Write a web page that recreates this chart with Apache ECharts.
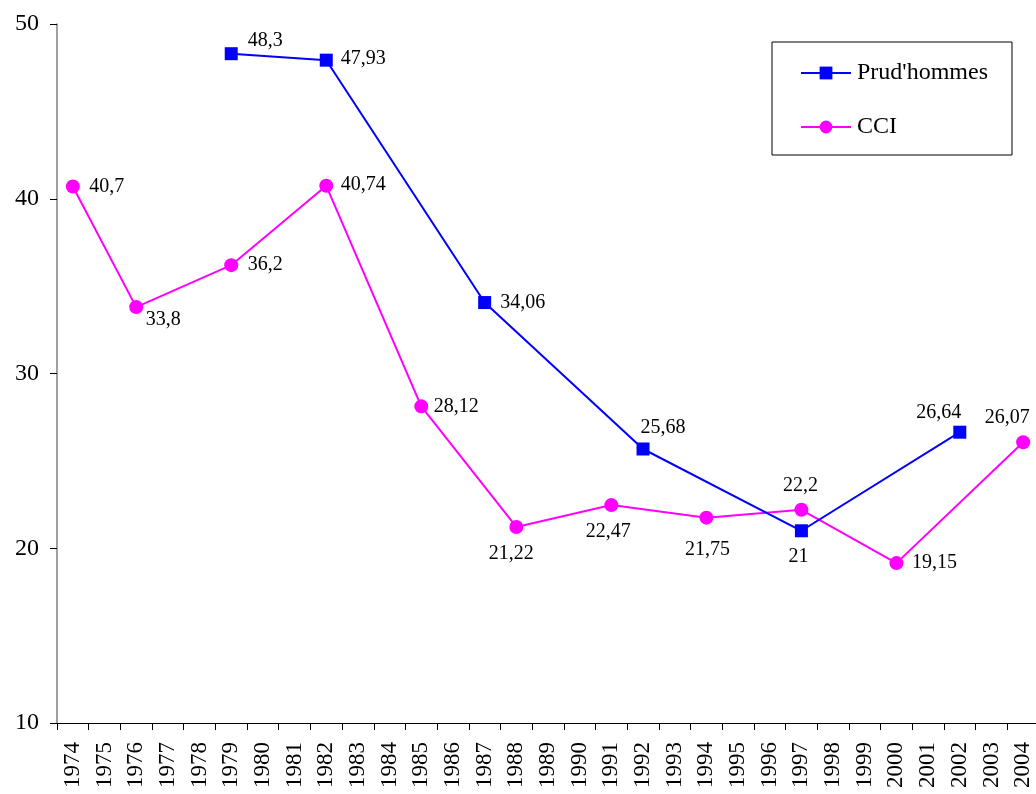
<!DOCTYPE html>
<html>
<head>
<meta charset="utf-8">
<script src="https://cdn.jsdelivr.net/npm/echarts@6/dist/echarts.min.js"></script>
<style>html,body{margin:0;padding:0;background:#fff;overflow:hidden;}#c{width:1040px;height:794px;}</style>
</head>
<body>
<div id="c"></div>
<script>
const years = ['1974','1975','1976','1977','1978','1979','1980','1981','1982','1983','1984','1985','1986','1987','1988','1989','1990','1991','1992','1993','1994','1995','1996','1997','1998','1999','2000','2001','2002','2003','2004'];
const prudYears = ['1979','1982','1987','1992','1997','2002'];
const prudValues = [48.3, 47.93, 34.06, 25.68, 21, 26.64];
const cciYears = ['1974','1976','1979','1982','1985','1988','1991','1994','1997','2000','2004'];
const cciValues = [40.7, 33.8, 36.2, 40.74, 28.12, 21.22, 22.47, 21.75, 22.2, 19.15, 26.07];
const yTicks = [10, 20, 30, 40, 50];

// label offsets (dx, dy) from marker centre, per year
const prudLabelOff = {'1979':[34,-13],'1982':[37,-1],'1987':[38,0],'1992':[20,-21],'1997':[-3,26],'2002':[-21,-19]};
const cciLabelOff = {'1974':[34,0],'1976':[27,13],'1979':[34,0],'1982':[37,-1],'1985':[35,0],'1988':[-5,27],'1991':[-3,27],'1994':[1,32],'1997':[-1,-24],'2000':[38,0],'2004':[-16,-24]};

function fmt(v){ return String(v).replace('.', ','); }
function build(ys, vs, offs){
  return years.map(y => {
    const i = ys.indexOf(y);
    if (i < 0) return null;
    const o = offs[y];
    return {
      value: vs[i],
      label: {show: true, position: 'inside', offset: o, align: 'center', verticalAlign: 'middle',
              formatter: fmt(vs[i])}
    };
  });
}

const font = '"Liberation Serif", "Times New Roman", serif';
const chart = echarts.init(document.getElementById('c'), null, {renderer: 'canvas'});
chart.setOption({
  animation: false,
  backgroundColor: '#fff',
  textStyle: {fontFamily: font},
  grid: {left: 57, right: 1, top: 24, bottom: 71, containLabel: false},
  legend: {
    orient: 'vertical', left: 772, top: 42,
    padding: [19, 24, 16, 28],
    itemGap: 30,
    itemWidth: 50, itemHeight: 16,
    borderColor: '#000', borderWidth: 1,
    textStyle: {fontFamily: font, fontSize: 24, color: '#000', padding: [0,0,0,1]},
    data: ["Prud'hommes", 'CCI']
  },
  xAxis: {
    type: 'category', data: years, boundaryGap: true,
    axisLine: {lineStyle: {color: '#000', width: 1}},
    axisTick: {show: true, interval: 0, length: 7, lineStyle: {color: '#000'}},
    axisLabel: {interval: 0, rotate: 90, fontSize: 23, color: '#000', fontFamily: font, margin: 19},
    splitLine: {show: false}
  },
  yAxis: {
    type: 'value', min: yTicks[0], max: yTicks[yTicks.length-1], interval: 10,
    axisLine: {show: true, lineStyle: {color: '#808080', width: 1.5}},
    axisTick: {show: true, length: 7, lineStyle: {color: '#000'}},
    axisLabel: {fontSize: 24, color: '#000', fontFamily: font, margin: 18},
    splitLine: {show: false}
  },
  series: [
    {
      name: "Prud'hommes", type: 'line', connectNulls: true,
      data: build(prudYears, prudValues, prudLabelOff),
      symbol: 'rect', symbolSize: 13,
      itemStyle: {color: '#0000ff'},
      lineStyle: {color: '#0000ff', width: 2},
      label: {color: '#000', fontSize: 20, fontFamily: font},
      z: 3
    },
    {
      name: 'CCI', type: 'line', connectNulls: true,
      data: build(cciYears, cciValues, cciLabelOff),
      symbol: 'circle', symbolSize: 14,
      itemStyle: {color: '#ff00ff'},
      lineStyle: {color: '#ff00ff', width: 2},
      label: {color: '#000', fontSize: 20, fontFamily: font},
      z: 2
    }
  ]
});
</script>
</body>
</html>
